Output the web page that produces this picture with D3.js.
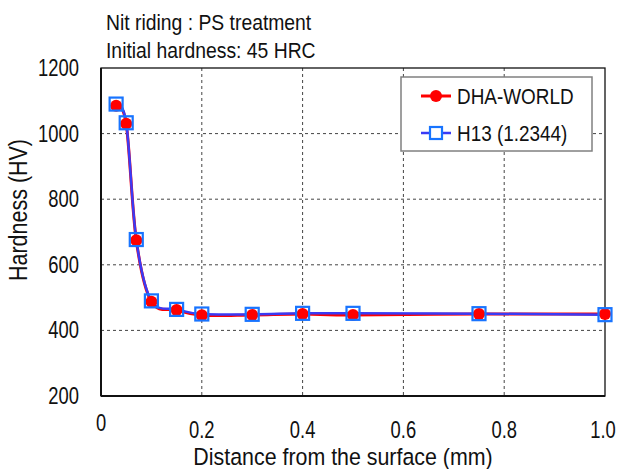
<!DOCTYPE html>
<html><head><meta charset="utf-8">
<script src="https://cdn.jsdelivr.net/npm/d3@7/dist/d3.min.js"></script>
<style>
html,body{margin:0;padding:0;background:#fff;}
text{font-family:"Liberation Sans",Arial,sans-serif;fill:#111;}
</style></head>
<body><svg id="c" width="617" height="469"></svg>
<script>
const distance = [0.03, 0.05, 0.07, 0.1, 0.15, 0.2, 0.3, 0.4, 0.5, 0.75, 1.0];
const dhaWorld = [1085, 1030, 675, 487, 462, 446, 447, 450, 447, 450, 450];
const h13 = [1090, 1033, 677, 490, 464, 450, 449, 452, 452, 451, 448];
const seriesNames = ["DHA-WORLD", "H13 (1.2344)"];
const xTicks = [0, 0.2, 0.4, 0.6, 0.8, 1.0];
const xTickLabels = ["0", "0.2", "0.4", "0.6", "0.8", "1.0"];
const yTicks = [200, 400, 600, 800, 1000, 1200];
const titleLines = ["Nit riding : PS treatment", "Initial hardness: 45 HRC"];
const xTitle = "Distance from the surface (mm)";
const yTitle = "Hardness (HV)";

const svg = d3.select("#c");
const L = 101, R = 605, T = 68, B = 396;
const x = d3.scaleLinear().domain([0, 1.0]).range([L, R]);
const y = d3.scaleLinear().domain([200, 1200]).range([B, T]);

// condensed text helper
function ctext(parent, tx, ty, str, size, sx, anchor, rot) {
  const gg = parent.append("g").attr("transform",
    `translate(${tx},${ty})` + (rot ? ` rotate(${rot})` : "") + ` scale(${sx},1)`);
  gg.append("text").attr("x", 0).attr("y", 0).attr("text-anchor", anchor || "start")
    .attr("font-size", size).text(str);
  return gg;
}

// gridlines
const g = svg.append("g");
g.selectAll(".hg").data(yTicks.filter(v => v > 200 && v < 1200)).join("line")
  .attr("x1", L).attr("x2", R).attr("y1", d => y(d)).attr("y2", d => y(d))
  .attr("stroke", "#444").attr("stroke-width", 1).attr("stroke-dasharray", "3,3");
g.selectAll(".vg").data(xTicks.filter(v => v > 0 && v < 1.0)).join("line")
  .attr("y1", T).attr("y2", B).attr("x1", d => x(d)).attr("x2", d => x(d))
  .attr("stroke", "#444").attr("stroke-width", 1).attr("stroke-dasharray", "3,3");

// frame
svg.append("rect").attr("x", L).attr("y", T).attr("width", R - L).attr("height", B - T)
  .attr("fill", "none").attr("stroke", "#111").attr("stroke-width", 1.3);
svg.append("line").attr("x1", L).attr("x2", L).attr("y1", T).attr("y2", B).attr("stroke", "#111").attr("stroke-width", 2);
svg.append("line").attr("x1", L).attr("x2", R).attr("y1", B).attr("y2", B).attr("stroke", "#111").attr("stroke-width", 2);

// tick labels
yTicks.forEach(v => ctext(svg, 79, y(v) + 8, String(v), 23, 0.8, "end"));
xTicks.forEach((v, i) => {
  const cx = i === xTicks.length - 1 ? x(v) - 2 : x(v);
  ctext(svg, cx, i === 0 ? 431 : 437.5, xTickLabels[i], 23, 0.8, "middle");
});

// titles
titleLines.forEach((t, i) => ctext(svg, 106, 30 + i * 28, t, 21.5, 0.9, "start"));
ctext(svg, 343, 464.5, xTitle, 23.5, 0.91, "middle");
ctext(svg, 27, 210, yTitle, 25, 0.86, "middle", -90);

// series
const curve = d3.curveCardinal.tension(0);
const line = d3.line().x(d => x(d[0])).y(d => y(d[1])).curve(curve);
const dData = distance.map((v, i) => [v, dhaWorld[i]]);
const hData = distance.map((v, i) => [v, h13[i]]);
const red = "#ff0000", blueLine = "#3a3af5", blueMark = "#1874ff";
svg.append("path").attr("d", line(dData)).attr("fill", "none").attr("stroke", red).attr("stroke-width", 3);
svg.append("path").attr("d", line(hData)).attr("fill", "none").attr("stroke", blueLine).attr("stroke-width", 2.5);
svg.selectAll(".dc").data(dData).join("circle")
  .attr("cx", d => x(d[0])).attr("cy", d => y(d[1])).attr("r", 6).attr("fill", red);
svg.selectAll(".hs").data(hData).join("rect")
  .attr("x", d => x(d[0]) - 6.5).attr("y", d => y(d[1]) - 6.5).attr("width", 13).attr("height", 13)
  .attr("fill", "none").attr("stroke", blueMark).attr("stroke-width", 2.2);

// legend
const lg = svg.append("g");
lg.append("rect").attr("x", 401).attr("y", 77).attr("width", 191).attr("height", 74)
  .attr("fill", "#fff").attr("stroke", "#808080").attr("stroke-width", 1.5);
const rows = [96, 133];
lg.append("line").attr("x1", 421).attr("x2", 451).attr("y1", rows[0]).attr("y2", rows[0]).attr("stroke", red).attr("stroke-width", 3);
lg.append("circle").attr("cx", 436).attr("cy", rows[0]).attr("r", 6).attr("fill", red);
lg.append("line").attr("x1", 421).attr("x2", 451).attr("y1", rows[1]).attr("y2", rows[1]).attr("stroke", blueLine).attr("stroke-width", 2.5);
lg.append("rect").attr("x", 430).attr("y", rows[1] - 6).attr("width", 12).attr("height", 12)
  .attr("fill", "#fff").attr("stroke", blueMark).attr("stroke-width", 2.2);
seriesNames.forEach((t, i) => ctext(lg, 457, rows[i] + 8, t, 22, 0.86, "start"));
</script></body></html>
